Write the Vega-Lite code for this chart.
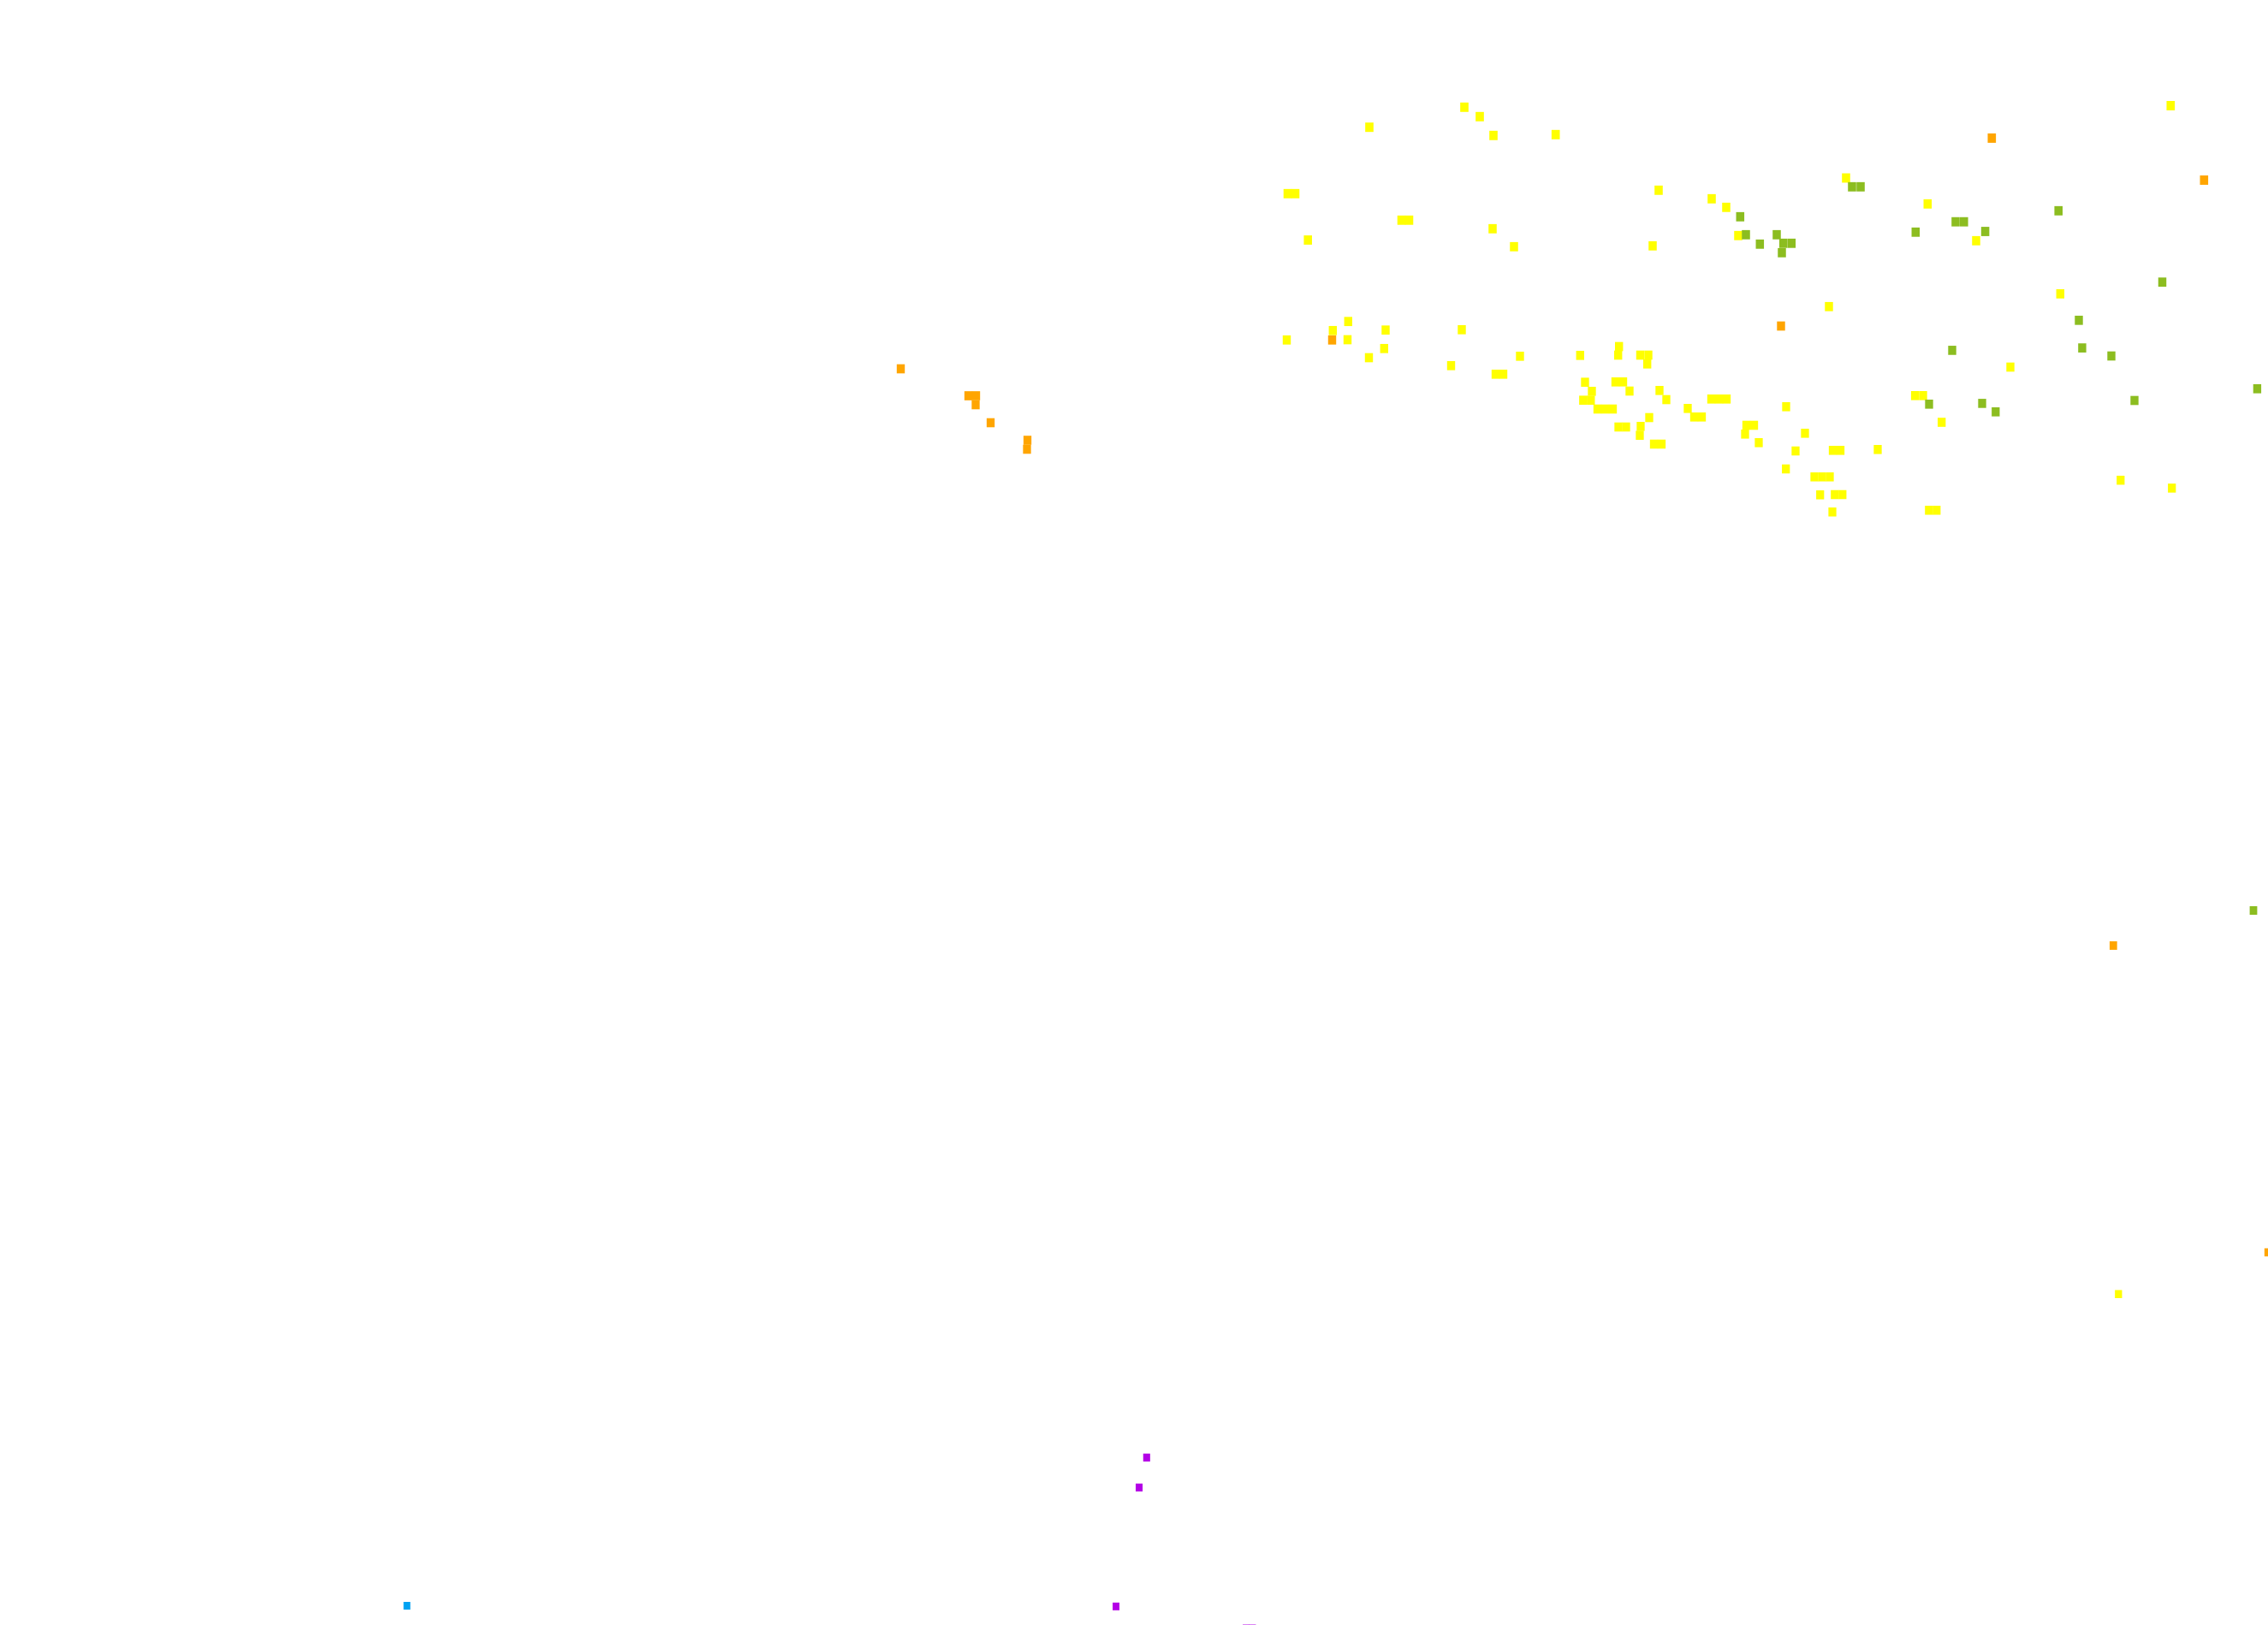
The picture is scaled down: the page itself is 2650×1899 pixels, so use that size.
{
  "$schema": "https://vega.github.io/schema/vega-lite/v6.json",
  "width": 2650,
  "height": 1899,
  "autosize": {"type": "none"},
  "padding": 0,
  "background": "white",
  "config": {"view": {"stroke": null}},
  "data": {"values": [
    {"x": 1711, "y": 125.3, "c": "yellow"},
    {"x": 1729, "y": 136.3, "c": "yellow"},
    {"x": 1600, "y": 148.7, "c": "yellow"},
    {"x": 1745, "y": 158.3, "c": "yellow"},
    {"x": 1817.7, "y": 157.3, "c": "yellow"},
    {"x": 1504.5, "y": 226.3, "c": "yellow"},
    {"x": 1513.5, "y": 226.3, "c": "yellow"},
    {"x": 1637.5, "y": 257.3, "c": "yellow"},
    {"x": 1646.5, "y": 257.3, "c": "yellow"},
    {"x": 1744, "y": 267.3, "c": "yellow"},
    {"x": 1528.2, "y": 280.5, "c": "yellow"},
    {"x": 1769, "y": 288.3, "c": "yellow"},
    {"x": 1575.3, "y": 375.7, "c": "yellow"},
    {"x": 1557.3, "y": 386.3, "c": "yellow"},
    {"x": 1556.5, "y": 397.3, "c": "orange"},
    {"x": 1503.5, "y": 397.3, "c": "yellow"},
    {"x": 1574.5, "y": 397, "c": "yellow"},
    {"x": 1619, "y": 385.7, "c": "yellow"},
    {"x": 1617.3, "y": 407.3, "c": "yellow"},
    {"x": 1599.5, "y": 418, "c": "yellow"},
    {"x": 1708, "y": 385.3, "c": "yellow"},
    {"x": 1695.5, "y": 427.3, "c": "yellow"},
    {"x": 1776, "y": 416.3, "c": "yellow"},
    {"x": 1747.5, "y": 437.3, "c": "yellow"},
    {"x": 1756.5, "y": 437.3, "c": "yellow"},
    {"x": 1846.3, "y": 415.3, "c": "yellow"},
    {"x": 1852, "y": 446.7, "c": "yellow"},
    {"x": 1860, "y": 457.3, "c": "yellow"},
    {"x": 1849.8, "y": 467.7, "c": "yellow"},
    {"x": 1858.8, "y": 467.7, "c": "yellow"},
    {"x": 1866.5, "y": 478, "c": "yellow"},
    {"x": 1875.5, "y": 478, "c": "yellow"},
    {"x": 1884.5, "y": 478, "c": "yellow"},
    {"x": 2157, "y": 208, "c": "yellow"},
    {"x": 2164, "y": 218.3, "c": "green"},
    {"x": 2174, "y": 218.3, "c": "green"},
    {"x": 2252.3, "y": 238.3, "c": "yellow"},
    {"x": 2238.3, "y": 271.3, "c": "green"},
    {"x": 1938, "y": 222.3, "c": "yellow"},
    {"x": 2000, "y": 232.3, "c": "yellow"},
    {"x": 2017, "y": 242.3, "c": "yellow"},
    {"x": 2033.3, "y": 253.3, "c": "green"},
    {"x": 2031, "y": 275.3, "c": "yellow"},
    {"x": 2040, "y": 274.3, "c": "green"},
    {"x": 2076, "y": 274.3, "c": "green"},
    {"x": 2056.3, "y": 285.3, "c": "green"},
    {"x": 2083.7, "y": 284.3, "c": "green"},
    {"x": 2093.3, "y": 284.3, "c": "green"},
    {"x": 2082, "y": 295.3, "c": "green"},
    {"x": 1931, "y": 287.3, "c": "yellow"},
    {"x": 2137, "y": 358.3, "c": "yellow"},
    {"x": 2081, "y": 381, "c": "orange"},
    {"x": 1891.7, "y": 405, "c": "yellow"},
    {"x": 1890.7, "y": 415, "c": "yellow"},
    {"x": 1916.5, "y": 415, "c": "yellow"},
    {"x": 1926, "y": 415, "c": "yellow"},
    {"x": 1924.7, "y": 425.3, "c": "yellow"},
    {"x": 1887.5, "y": 446.3, "c": "yellow"},
    {"x": 1896.5, "y": 446.3, "c": "yellow"},
    {"x": 1904, "y": 457, "c": "yellow"},
    {"x": 1939, "y": 456.3, "c": "yellow"},
    {"x": 1947, "y": 467, "c": "yellow"},
    {"x": 1999.5, "y": 466.3, "c": "yellow"},
    {"x": 2008.5, "y": 466.3, "c": "yellow"},
    {"x": 2017.5, "y": 466.3, "c": "yellow"},
    {"x": 1972, "y": 477.3, "c": "yellow"},
    {"x": 1979.5, "y": 487.3, "c": "yellow"},
    {"x": 1988.5, "y": 487.3, "c": "yellow"},
    {"x": 1927, "y": 488, "c": "yellow"},
    {"x": 1891, "y": 499, "c": "yellow"},
    {"x": 1900, "y": 499, "c": "yellow"},
    {"x": 1917, "y": 498.3, "c": "yellow"},
    {"x": 1916, "y": 508.7, "c": "yellow"},
    {"x": 1932.5, "y": 519, "c": "yellow"},
    {"x": 1941.5, "y": 519, "c": "yellow"},
    {"x": 2087, "y": 475.3, "c": "yellow"},
    {"x": 2040.5, "y": 497, "c": "yellow"},
    {"x": 2049.5, "y": 497, "c": "yellow"},
    {"x": 2039, "y": 507.3, "c": "yellow"},
    {"x": 2055, "y": 517.3, "c": "yellow"},
    {"x": 2109, "y": 506.3, "c": "yellow"},
    {"x": 2098, "y": 527, "c": "yellow"},
    {"x": 2141.5, "y": 526.3, "c": "yellow"},
    {"x": 2150.5, "y": 526.3, "c": "yellow"},
    {"x": 2194, "y": 525.3, "c": "yellow"},
    {"x": 2086.7, "y": 548, "c": "yellow"},
    {"x": 2120, "y": 557.3, "c": "yellow"},
    {"x": 2129, "y": 557.3, "c": "yellow"},
    {"x": 2138, "y": 557.3, "c": "yellow"},
    {"x": 2126.7, "y": 578.3, "c": "yellow"},
    {"x": 2143.8, "y": 578, "c": "yellow"},
    {"x": 2152.8, "y": 578, "c": "yellow"},
    {"x": 2141, "y": 598.3, "c": "yellow"},
    {"x": 2237.6, "y": 462.3, "c": "yellow"},
    {"x": 2247, "y": 462.3, "c": "yellow"},
    {"x": 2254, "y": 472.3, "c": "green"},
    {"x": 2268.7, "y": 493.5, "c": "yellow"},
    {"x": 2253.8, "y": 596.3, "c": "yellow"},
    {"x": 2262.8, "y": 596.3, "c": "yellow"},
    {"x": 2536.3, "y": 123.5, "c": "yellow"},
    {"x": 2327.3, "y": 161.4, "c": "orange"},
    {"x": 2575.3, "y": 210.5, "c": "orange"},
    {"x": 2285, "y": 259.2, "c": "green"},
    {"x": 2294.8, "y": 259.2, "c": "green"},
    {"x": 2319.6, "y": 270.5, "c": "green"},
    {"x": 2309, "y": 281.3, "c": "yellow"},
    {"x": 2405.2, "y": 246.3, "c": "green"},
    {"x": 2526.5, "y": 329.7, "c": "green"},
    {"x": 2407.3, "y": 343.4, "c": "yellow"},
    {"x": 2429, "y": 374.3, "c": "green"},
    {"x": 2281, "y": 409.4, "c": "green"},
    {"x": 2432.9, "y": 406.6, "c": "green"},
    {"x": 2467, "y": 416, "c": "green"},
    {"x": 2349, "y": 429, "c": "yellow"},
    {"x": 2637.4, "y": 454.3, "c": "green"},
    {"x": 2316, "y": 471.4, "c": "green"},
    {"x": 2331.8, "y": 481.3, "c": "green"},
    {"x": 2494, "y": 468, "c": "green"},
    {"x": 2477.8, "y": 561.2, "c": "yellow"},
    {"x": 2537.7, "y": 570.4, "c": "yellow"},
    {"x": 1052.5, "y": 431, "c": "orange"},
    {"x": 1131.5, "y": 462.5, "c": "orange"},
    {"x": 1140.5, "y": 462.5, "c": "orange"},
    {"x": 1140, "y": 473, "c": "orange"},
    {"x": 1157.5, "y": 494, "c": "orange"},
    {"x": 1200.5, "y": 514.5, "c": "orange"},
    {"x": 1200, "y": 525, "c": "orange"},
    {"x": 2633, "y": 1064, "c": "green"},
    {"x": 2469.3, "y": 1105, "c": "orange"},
    {"x": 2650, "y": 1463.5, "c": "orange"},
    {"x": 2475.3, "y": 1512.3, "c": "yellow"},
    {"x": 1339.8, "y": 1703.3, "c": "purple"},
    {"x": 1331, "y": 1738.3, "c": "purple"},
    {"x": 1304, "y": 1877.3, "c": "purple"},
    {"x": 475.5, "y": 1876.5, "c": "blue"},
    {"x": 1456, "y": 1903, "c": "purple"},
    {"x": 1463.5, "y": 1903, "c": "purple"}
  ]},
  "mark": {"type": "point", "filled": true, "opacity": 1, "strokeWidth": 0, "shape": "M-0.88,-1H0.88V1H-0.88Z"},
  "encoding": {
    "x": {"field": "x", "type": "quantitative", "scale": {"domain": [0, 2650], "nice": false, "zero": false}, "axis": null},
    "y": {"field": "y", "type": "quantitative", "scale": {"domain": [0, 1899], "nice": false, "zero": false, "reverse": true}, "axis": null},
    "color": {"field": "c", "type": "nominal", "scale": {"domain": ["yellow", "green", "orange", "purple", "blue"], "range": ["#ffff00", "#8cbd20", "#ffa500", "#b300e6", "#00a2f2"]}, "legend": null},
    "size": {"field": "y", "type": "quantitative", "scale": {"domain": [120, 1880], "range": [121, 81], "zero": false}, "legend": null}
  }
}
